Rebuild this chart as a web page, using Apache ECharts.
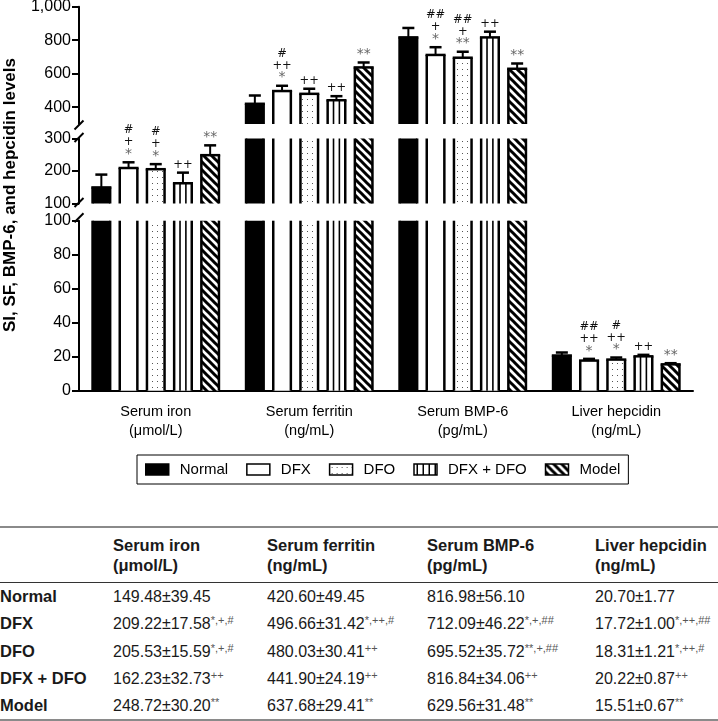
<!DOCTYPE html>
<html>
<head>
<meta charset="utf-8">
<script src="https://cdn.jsdelivr.net/npm/echarts@6/dist/echarts.min.js"></script>
<style>
  html, body { margin: 0; padding: 0; background: #fff; }
  #wrap { position: relative; width: 718px; height: 721px; font-family: 'Liberation Sans', Arial, sans-serif; }
  #chart { position: absolute; left: 0; top: 0; width: 718px; height: 520px; }
  #tbl { position: absolute; left: 0; top: 526px; width: 718px; border-collapse: collapse; table-layout: fixed; color: #1a1a1a;
         border-top: 2px solid #8a8a8a; border-bottom: 2px solid #8a8a8a; }
  #tbl th { font-weight: bold; font-size: 16.5px; line-height: 20px; padding: 7px 0; text-align: left; vertical-align: top;
            border-bottom: 1.5px solid #333; }
  #tbl td { font-size: 16px; height: 27.3px; padding: 0; line-height: 27px; white-space: nowrap; }
  #tbl td.lab { font-weight: bold; font-size: 16.5px; }
  #tbl sup { font-size: 11px; color: #555; line-height: 0; vertical-align: 5px; }
</style>
</head>
<body>
<div id="wrap">
  <div id="chart"></div>
  <table id="tbl"></table>
</div>
<script>
// categories and groups
const categories = ['Serum iron\n(μmol/L)', 'Serum ferritin\n(ng/mL)', 'Serum BMP-6\n(pg/mL)', 'Liver hepcidin\n(ng/mL)'];
const groups = ['Normal', 'DFX', 'DFO', 'DFX + DFO', 'Model'];

// means
const normalMean = [149.48, 420.60, 816.98, 20.70];
const dfxMean = [209.22, 496.66, 712.09, 17.72];
const dfoMean = [205.53, 480.03, 695.52, 18.31];
const dfxDfoMean = [162.23, 441.90, 816.84, 20.22];
const modelMean = [248.72, 637.68, 629.56, 15.51];

// standard deviations
const normalSd = [39.45, 49.45, 56.10, 1.77];
const dfxSd = [17.58, 31.42, 46.22, 1.00];
const dfoSd = [15.59, 30.41, 35.72, 1.21];
const dfxDfoSd = [32.73, 24.19, 34.06, 0.87];
const modelSd = [30.20, 29.41, 31.48, 0.67];

// significance marks (stacked top to bottom above the bars)
const normalSig = ['', '', '', ''];
const dfxSig = ['#\n+\n*', '#\n++\n*', '##\n+\n*', '##\n++\n*'];
const dfoSig = ['#\n+\n*', '++', '##\n+\n**', '#\n++\n*'];
const dfxDfoSig = ['++', '++', '++', '++'];
const modelSig = ['**', '**', '**', '**'];

// broken y axis: tick labels per segment
const topTicks = [400, 600, 800, 1000];
const midTicks = [100, 200, 300];
const lowTicks = [0, 20, 40, 60, 80, 100];

const means = [normalMean, dfxMean, dfoMean, dfxDfoMean, modelMean];
const sds = [normalSd, dfxSd, dfoSd, dfxDfoSd, modelSd];
const sigs = [normalSig, dfxSig, dfoSig, dfxDfoSig, modelSig];

const FONT = "'Liberation Sans', Arial, sans-serif";
const segments = [
  { min: 300, max: 1000, top: 6.7, bottom: 124, ticks: topTicks },
  { min: 100, max: 300, top: 138.5, bottom: 203.5, ticks: midTicks },
  { min: 0, max: 100, top: 220.7, bottom: 390.7, ticks: lowTicks }
];
const pitch = 27.2;
const halfW = 8.8;

function makeTile(w, h, draw) {
  const c = document.createElement('canvas');
  c.width = w; c.height = h;
  const ctx = c.getContext('2d');
  ctx.fillStyle = '#fff';
  ctx.fillRect(0, 0, w, h);
  draw(ctx);
  return c;
}
const dotTile = makeTile(5, 6, ctx => { ctx.fillStyle = '#555'; ctx.fillRect(2, 3, 1, 1); });
const hatchTile = makeTile(8, 8, ctx => {
  ctx.strokeStyle = '#000'; ctx.lineWidth = 3; ctx.beginPath();
  ctx.moveTo(-2, -2); ctx.lineTo(10, 10);
  ctx.moveTo(-2, 6); ctx.lineTo(2, 10);
  ctx.moveTo(6, -2); ctx.lineTo(10, 2);
  ctx.stroke();
});
const stripeTile = makeTile(6, 4, ctx => { ctx.fillStyle = '#000'; ctx.fillRect(2.5, 0, 1.5, 4); });
const dotFill = { image: dotTile, repeat: 'repeat' };
const hatchFill = { image: hatchTile, repeat: 'repeat' };
const fills = ['#000', '#fff', dotFill, '#fff', hatchFill];
const legendFills = ['#000', '#fff', dotFill, { image: stripeTile, repeat: 'repeat' }, hatchFill];

function sigText(str) {
  return str.split('\n').map(l => l.indexOf('*') >= 0 ? '{s|' + l + '}' : l).join('\n');
}

function makeRender(seg, s) {
  return function (params, api) {
    const i = api.value(0), v = api.value(1), sd = api.value(2);
    if (v <= seg.min) return;
    const base = api.coord([i, seg.min]);
    const cx = base[0] + (s - 2) * pitch;
    const yBase = base[1];
    const yTop = api.coord([i, Math.min(v, seg.max)])[1];
    const x0 = cx - halfW, x1 = cx + halfW;
    const black = { stroke: '#000', lineWidth: 2.5 };
    const children = [
      { type: 'rect', shape: { x: x0, y: yTop, width: x1 - x0, height: yBase - yTop }, style: { fill: fills[s] } }
    ];
    if (s === 3) {
      [x0 + (x1 - x0) / 3, x0 + 2 * (x1 - x0) / 3].forEach(x => {
        children.push({ type: 'line', shape: { x1: x, y1: yTop, x2: x, y2: yBase }, style: { stroke: '#000', lineWidth: 1.6 } });
      });
    }
    children.push({ type: 'line', shape: { x1: x0, y1: yTop, x2: x0, y2: yBase }, style: black });
    children.push({ type: 'line', shape: { x1: x1, y1: yTop, x2: x1, y2: yBase }, style: black });
    if (v <= seg.max) {
      children.push({ type: 'line', shape: { x1: x0 - 1.25, y1: yTop, x2: x1 + 1.25, y2: yTop }, style: black });
      const yErr = api.coord([i, Math.min(v + sd, seg.max)])[1];
      children.push({ type: 'line', shape: { x1: cx, y1: yTop, x2: cx, y2: yErr }, style: { stroke: '#000', lineWidth: 2 } });
      children.push({ type: 'line', shape: { x1: cx - 6, y1: yErr, x2: cx + 6, y2: yErr }, style: black });
      const sig = sigs[s][params.dataIndex];
      if (sig) {
        children.push({
          type: 'text', x: cx, y: yErr - 2,
          style: {
            text: sigText(sig), align: 'center', verticalAlign: 'bottom',
            fontFamily: 'DejaVu Sans', fontSize: 11.5, lineHeight: 12, fill: '#111',
            rich: { s: { fill: '#666', fontSize: 14, lineHeight: 12, fontFamily: 'DejaVu Sans' } }
          }
        });
      }
    }
    return { type: 'group', children: children };
  };
}

const chart = echarts.init(document.getElementById('chart'));

const grid = segments.map(seg => ({
  left: 79, right: 25, top: seg.top, height: seg.bottom - seg.top, outerBoundsMode: 'none'
}));
const xAxis = segments.map((seg, g) => ({
  gridIndex: g, type: 'category', data: categories, show: g === 2,
  axisLine: { lineStyle: { color: '#000', width: 2 } },
  axisTick: { alignWithLabel: true, length: 6, lineStyle: { color: '#000', width: 2 } },
  axisLabel: { fontSize: 14.5, color: '#000', lineHeight: 19, margin: 12, fontFamily: FONT }
}));
const yAxis = segments.map((seg, g) => ({
  gridIndex: g, type: 'value', min: seg.min, max: seg.max,
  axisLine: { show: true, lineStyle: { color: '#000', width: 2 } },
  axisTick: { show: true, length: 7, lineStyle: { color: '#000', width: 2 }, customValues: seg.ticks },
  axisLabel: { customValues: seg.ticks, fontSize: 16, color: '#000', margin: 8, fontFamily: FONT,
               formatter: v => Number(v).toLocaleString('en-US') },
  splitLine: { show: false }
}));
const series = [];
segments.forEach((seg, g) => {
  groups.forEach((name, s) => {
    series.push({
      type: 'custom', name: name, xAxisIndex: g, yAxisIndex: g, silent: true, clip: false,
      data: means[s].map((m, i) => [i, m, sds[s][i]]),
      encode: { x: 0, y: 1 },
      itemStyle: { color: legendFills[s], borderColor: '#000', borderWidth: 1.5 },
      renderItem: makeRender(seg, s)
    });
  });
});

// break marks on the y axis
const breakYs = [segments[0].bottom + 1, segments[1].top - 1, segments[1].bottom - 1, segments[2].top - 3];
const graphic = breakYs.map(y => ({
  type: 'line', shape: { x1: 74.5, y1: y + 4.5, x2: 83.5, y2: y - 4.5 }, style: { stroke: '#000', lineWidth: 2 }
}));
graphic.push({
  type: 'text', x: 10, y: 195, rotation: Math.PI / 2,
  style: { text: 'SI, SF, BMP-6, and hepcidin levels', font: 'bold 17px ' + FONT, align: 'center', verticalAlign: 'middle', fill: '#000' }
});

chart.setOption({
  animation: false,
  grid: grid,
  xAxis: xAxis,
  yAxis: yAxis,
  legend: {
    data: groups, left: 137, top: 455, padding: [7, 8], borderColor: '#000', borderWidth: 1,
    itemWidth: 23, itemHeight: 11, itemGap: 18, icon: 'rect', selectedMode: false,
    itemStyle: { borderColor: '#000', borderWidth: 1.5 },
    textStyle: { fontSize: 15, color: '#000', fontFamily: FONT, padding: [0, 0, 0, 6] }
  },
  graphic: graphic,
  series: series
});

// table below the chart
const heads = categories.map(c => c.split('\n'));
let html = '<colgroup><col style="width:113px"><col style="width:154px"><col style="width:160px"><col style="width:168px"><col style="width:123px"></colgroup>';
html += '<tr><th></th>' + heads.map(h => '<th>' + h[0] + '<br>' + h[1] + '</th>').join('') + '</tr>';
groups.forEach((name, s) => {
  html += '<tr><td class="lab">' + name + '</td>';
  means[s].forEach((m, i) => {
    const sig = sigs[s][i] ? sigs[s][i].split('\n').reverse().join(',') : '';
    html += '<td>' + m.toFixed(2) + '±' + sds[s][i].toFixed(2) + (sig ? '<sup>' + sig + '</sup>' : '') + '</td>';
  });
  html += '</tr>';
});
document.getElementById('tbl').innerHTML = html;
</script>
</body>
</html>
